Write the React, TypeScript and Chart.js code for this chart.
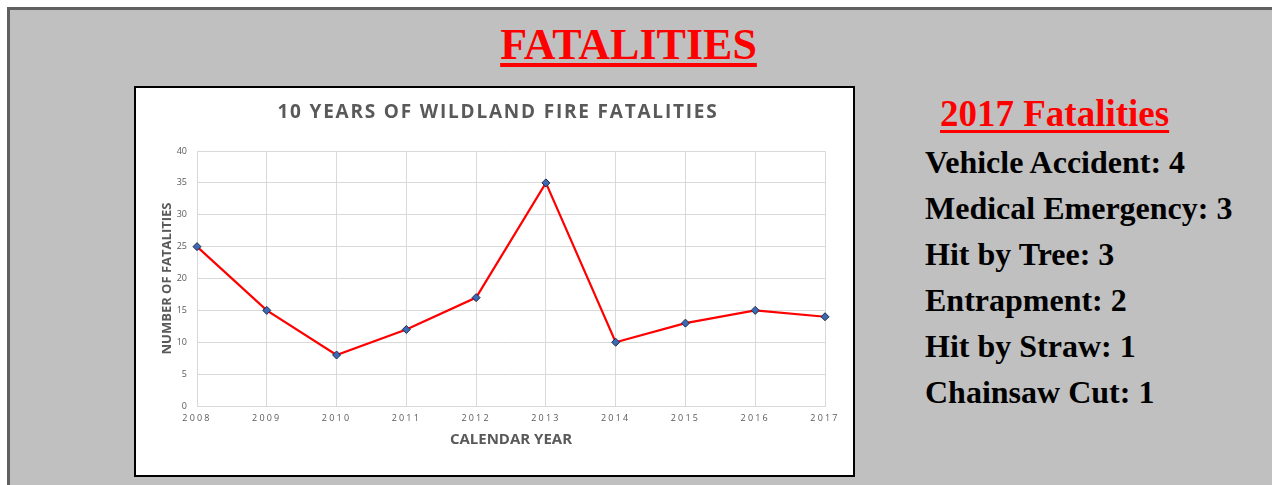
import React, { useEffect, useRef } from "react";
import { Chart, registerables } from "chart.js";

Chart.register(...registerables);

const YEARS = ["2008", "2009", "2010", "2011", "2012", "2013", "2014", "2015", "2016", "2017"];
const FATALITIES = [25, 15, 8, 12, 17, 35, 10, 13, 15, 14];
const Y_MIN = 0;
const Y_MAX = 40;
const Y_STEP = 5;

const PAGE_TITLE = "FATALITIES";
const CHART_TITLE = "10 YEARS OF WILDLAND FIRE FATALITIES";
const X_TITLE = "CALENDAR YEAR";
const Y_TITLE = "NUMBER OF FATALITIES";
const SIDE_TITLE = "2017 Fatalities";
const CAUSES = ["Vehicle Accident", "Medical Emergency", "Hit by Tree", "Entrapment", "Hit by Straw", "Chainsaw Cut"];
const CAUSE_COUNTS = [4, 3, 3, 2, 1, 1];

const SERIF = '"Liberation Serif", "Times New Roman", Times, serif';
const SANS = '"Open Sans", "Noto Sans", sans-serif';

const spacingPlugin = {
  id: "letterSpacingHack",
  beforeDraw(chart: any) {
    const ctx = chart.ctx;
    const tb = chart.titleBlock;
    if (tb && !tb.__sp) {
      const orig = tb.draw.bind(tb);
      tb.draw = (...a: any[]) => {
        ctx.letterSpacing = "1.8px";
        orig(...a);
        ctx.letterSpacing = "0px";
      };
      tb.__sp = true;
    }
    const xs = chart.scales.x;
    if (xs && !xs.__sp) {
      const orig = xs.drawLabels.bind(xs);
      xs.drawLabels = (...a: any[]) => {
        ctx.letterSpacing = "2.2px";
        orig(...a);
        ctx.letterSpacing = "0px";
      };
      xs.__sp = true;
    }
  },
};

function FatalityChart() {
  const ref = useRef<HTMLCanvasElement | null>(null);
  useEffect(() => {
    if (!ref.current) return;
    const chart = new Chart(ref.current, {
      type: "line",
      data: {
        labels: YEARS,
        datasets: [
          {
            data: FATALITIES,
            borderColor: "#ff0000",
            borderWidth: 2.2,
            tension: 0,
            fill: false,
            pointStyle: "rectRot",
            pointRadius: 4,
            pointBackgroundColor: "#3d68b4",
            pointBorderColor: "#1c2a48",
            pointBorderWidth: 1,
          },
        ],
      },
      options: {
        responsive: false,
        animation: false,
        devicePixelRatio: 1,
        layout: { padding: { left: 7, right: 0, top: 0, bottom: 0 } },
        plugins: {
          legend: { display: false },
          tooltip: { enabled: false },
          title: {
            display: true,
            text: CHART_TITLE,
            color: "#595959",
            font: { family: SANS, weight: "bold", size: 19 },
            padding: { top: 13.3, bottom: 26.9 },
          },
        },
        scales: {
          x: {
            type: "category",
            offset: false,
            grid: { color: "#d9d9d9", drawTicks: false, lineWidth: 1 },
            border: { color: "#d9d9d9" },
            ticks: {
              color: "#595959",
              font: { family: SANS, size: 9 },
              padding: 7.5,
              maxRotation: 0,
              autoSkip: false,
            },
            title: {
              display: true,
              text: X_TITLE,
              color: "#595959",
              font: { family: SANS, weight: "bold", size: 15 },
              padding: { top: 0, bottom: 26.4 },
            },
            afterFit: (s: any) => {
              s.height = 69;
            },
          },
          y: {
            type: "linear",
            min: Y_MIN,
            max: Y_MAX,
            grid: { color: "#d9d9d9", drawTicks: false, lineWidth: 1 },
            border: { color: "#d9d9d9" },
            ticks: {
              stepSize: Y_STEP,
              color: "#595959",
              font: { family: SANS, size: 9 },
              padding: 10,
            },
            title: {
              display: true,
              text: Y_TITLE,
              color: "#595959",
              font: { family: SANS, weight: "bold", size: 13 },
              padding: { top: 16.6, bottom: 0 },
            },
            afterFit: (s: any) => {
              s.width = 54;
            },
          },
          yRight: {
            type: "linear",
            position: "right",
            display: true,
            grid: { display: false },
            border: { display: false },
            ticks: { display: false },
            afterFit: (s: any) => {
              s.width = 28;
            },
          },
        },
      },
      plugins: [spacingPlugin],
    } as any);
    return () => chart.destroy();
  }, []);
  return (
    <canvas
      ref={ref}
      width={717}
      height={387}
      style={{ display: "block", width: 717, height: 387 }}
    />
  );
}

export default function App() {
  return (
    <div
      style={{
        position: "fixed",
        left: 0,
        top: 0,
        width: 1272,
        height: 485,
        background: "#ffffff",
        overflow: "hidden",
      }}
    >
      <div
        style={{
          position: "absolute",
          left: 7,
          top: 7,
          width: 1265,
          height: 478,
          background: "#c0c0c0",
          borderTop: "3px solid #606060",
          borderLeft: "3px solid #606060",
          boxSizing: "border-box",
        }}
      />
      <div
        style={{
          position: "absolute",
          left: 0,
          top: 23,
          width: 1257,
          textAlign: "center",
          fontFamily: SERIF,
          fontWeight: "bold",
          fontSize: 44,
          lineHeight: "44px",
          color: "#ff0000",
          textDecoration: "underline",
          textDecorationThickness: "4px",
          textUnderlineOffset: "4px",
        }}
      >
        {PAGE_TITLE}
      </div>
      <div
        style={{
          position: "absolute",
          left: 134,
          top: 86,
          width: 721,
          height: 391,
          border: "2px solid #000000",
          background: "#ffffff",
          boxSizing: "border-box",
        }}
      >
        <FatalityChart />
      </div>
      <div
        style={{
          position: "absolute",
          left: 940,
          top: 95,
          fontFamily: SERIF,
          fontWeight: "bold",
          fontSize: 37,
          lineHeight: "37px",
          color: "#ff0000",
          textDecoration: "underline",
          textDecorationThickness: "3px",
          textUnderlineOffset: "4px",
          whiteSpace: "nowrap",
        }}
      >
        {SIDE_TITLE}
      </div>
      <div
        style={{
          position: "absolute",
          left: 925,
          top: 139,
          fontFamily: SERIF,
          fontWeight: "bold",
          fontSize: 32,
          lineHeight: "46px",
          color: "#000000",
          whiteSpace: "nowrap",
        }}
      >
        {CAUSES.map((c, i) => (
          <div key={c}>
            {c}: {CAUSE_COUNTS[i]}
          </div>
        ))}
      </div>
    </div>
  );
}
